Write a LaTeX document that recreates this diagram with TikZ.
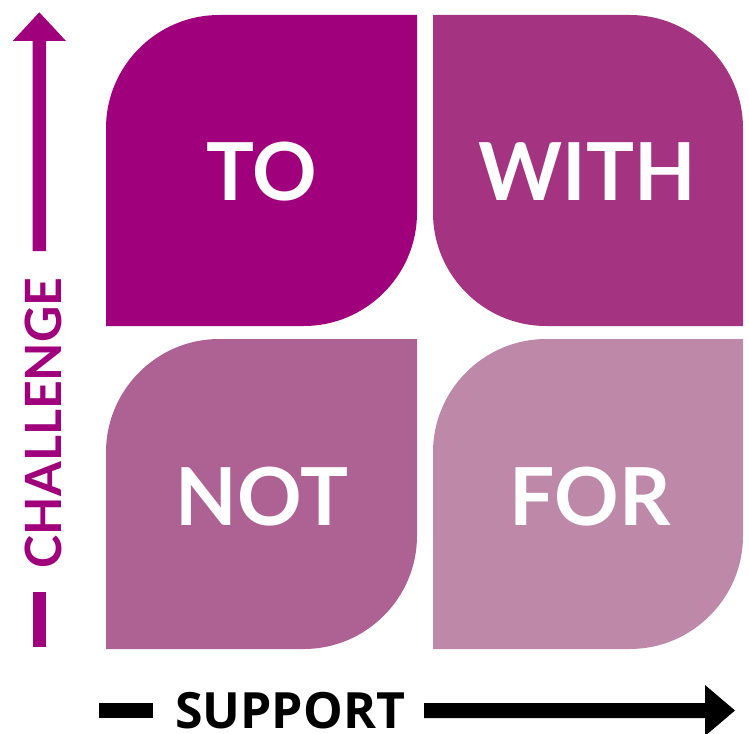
\documentclass[tikz,border=0pt]{standalone}
\usepackage{fontspec}
\newfontfamily\latofont{Lato}
\newfontfamily\opensansfont{Open Sans}
\definecolor{tocol}{RGB}{160,0,124}
\definecolor{withcol}{RGB}{164,52,130}
\definecolor{notcol}{RGB}{174,98,148}
\definecolor{forcol}{RGB}{190,136,168}
\begin{document}
\begin{tikzpicture}[x=1pt,y=-1pt,
  quadlabel/.style={text=white,inner sep=0pt,anchor=base,font=\latofont\bfseries\fontsize{80}{80}\selectfont},
  axislabel/.style={inner sep=0pt,anchor=base}]
\useasboundingbox (0,0) rectangle (749,733);
% quadrants
\fill[tocol] (106,326) -- (106,128) .. controls (106,66) and (157,15) .. (219,15) -- (417,15) -- (417,213) .. controls (417,275) and (366,326) .. (304,326) -- cycle;
\fill[withcol] (433,15) -- (630,15) .. controls (692,15) and (743,66) .. (743,128) -- (743,326) -- (546,326) .. controls (484,326) and (433,275) .. (433,213) -- cycle;
\fill[notcol] (106,649) -- (106,452) .. controls (106,390) and (157,339) .. (219,339) -- (417,339) -- (417,536) .. controls (417,598) and (366,649) .. (304,649) -- cycle;
\fill[forcol] (433,649) -- (433,452) .. controls (433,390) and (484,339) .. (546,339) -- (743,339) -- (743,536) .. controls (743,598) and (692,649) .. (630,649) -- cycle;
% labels
\node[quadlabel] (to) at (262,200) {TO};
\node[quadlabel] (with) at (587,200) {WITH};
\node[quadlabel] (not) at (262,525) {NOT};
\node[quadlabel] (for) at (590,525) {FOR};
% challenge axis
\fill[tocol] (32.5,251) -- (32.5,41) -- (12.7,41) -- (39.3,12.3) -- (66,41) -- (46,41) -- (46,251) -- cycle;
\fill[tocol] (32.5,592) rectangle (46,647);
\node[axislabel,rotate=90,text=tocol,font=\latofont\bfseries\fontsize{50}{50}\selectfont] (challenge) at (61.7,423) {CHALLENGE};
% support axis
\fill[black] (99,703) rectangle (153,717.5);
\fill[black] (424,703) -- (705,703) -- (705,685) -- (735,710.5) -- (705,736) -- (705,718) -- (424,718) -- cycle;
\node[axislabel,text=black,font=\opensansfont\bfseries\fontsize{50}{50}\selectfont] (support) at (290,728) {SUPPORT};
\end{tikzpicture}
\end{document}
